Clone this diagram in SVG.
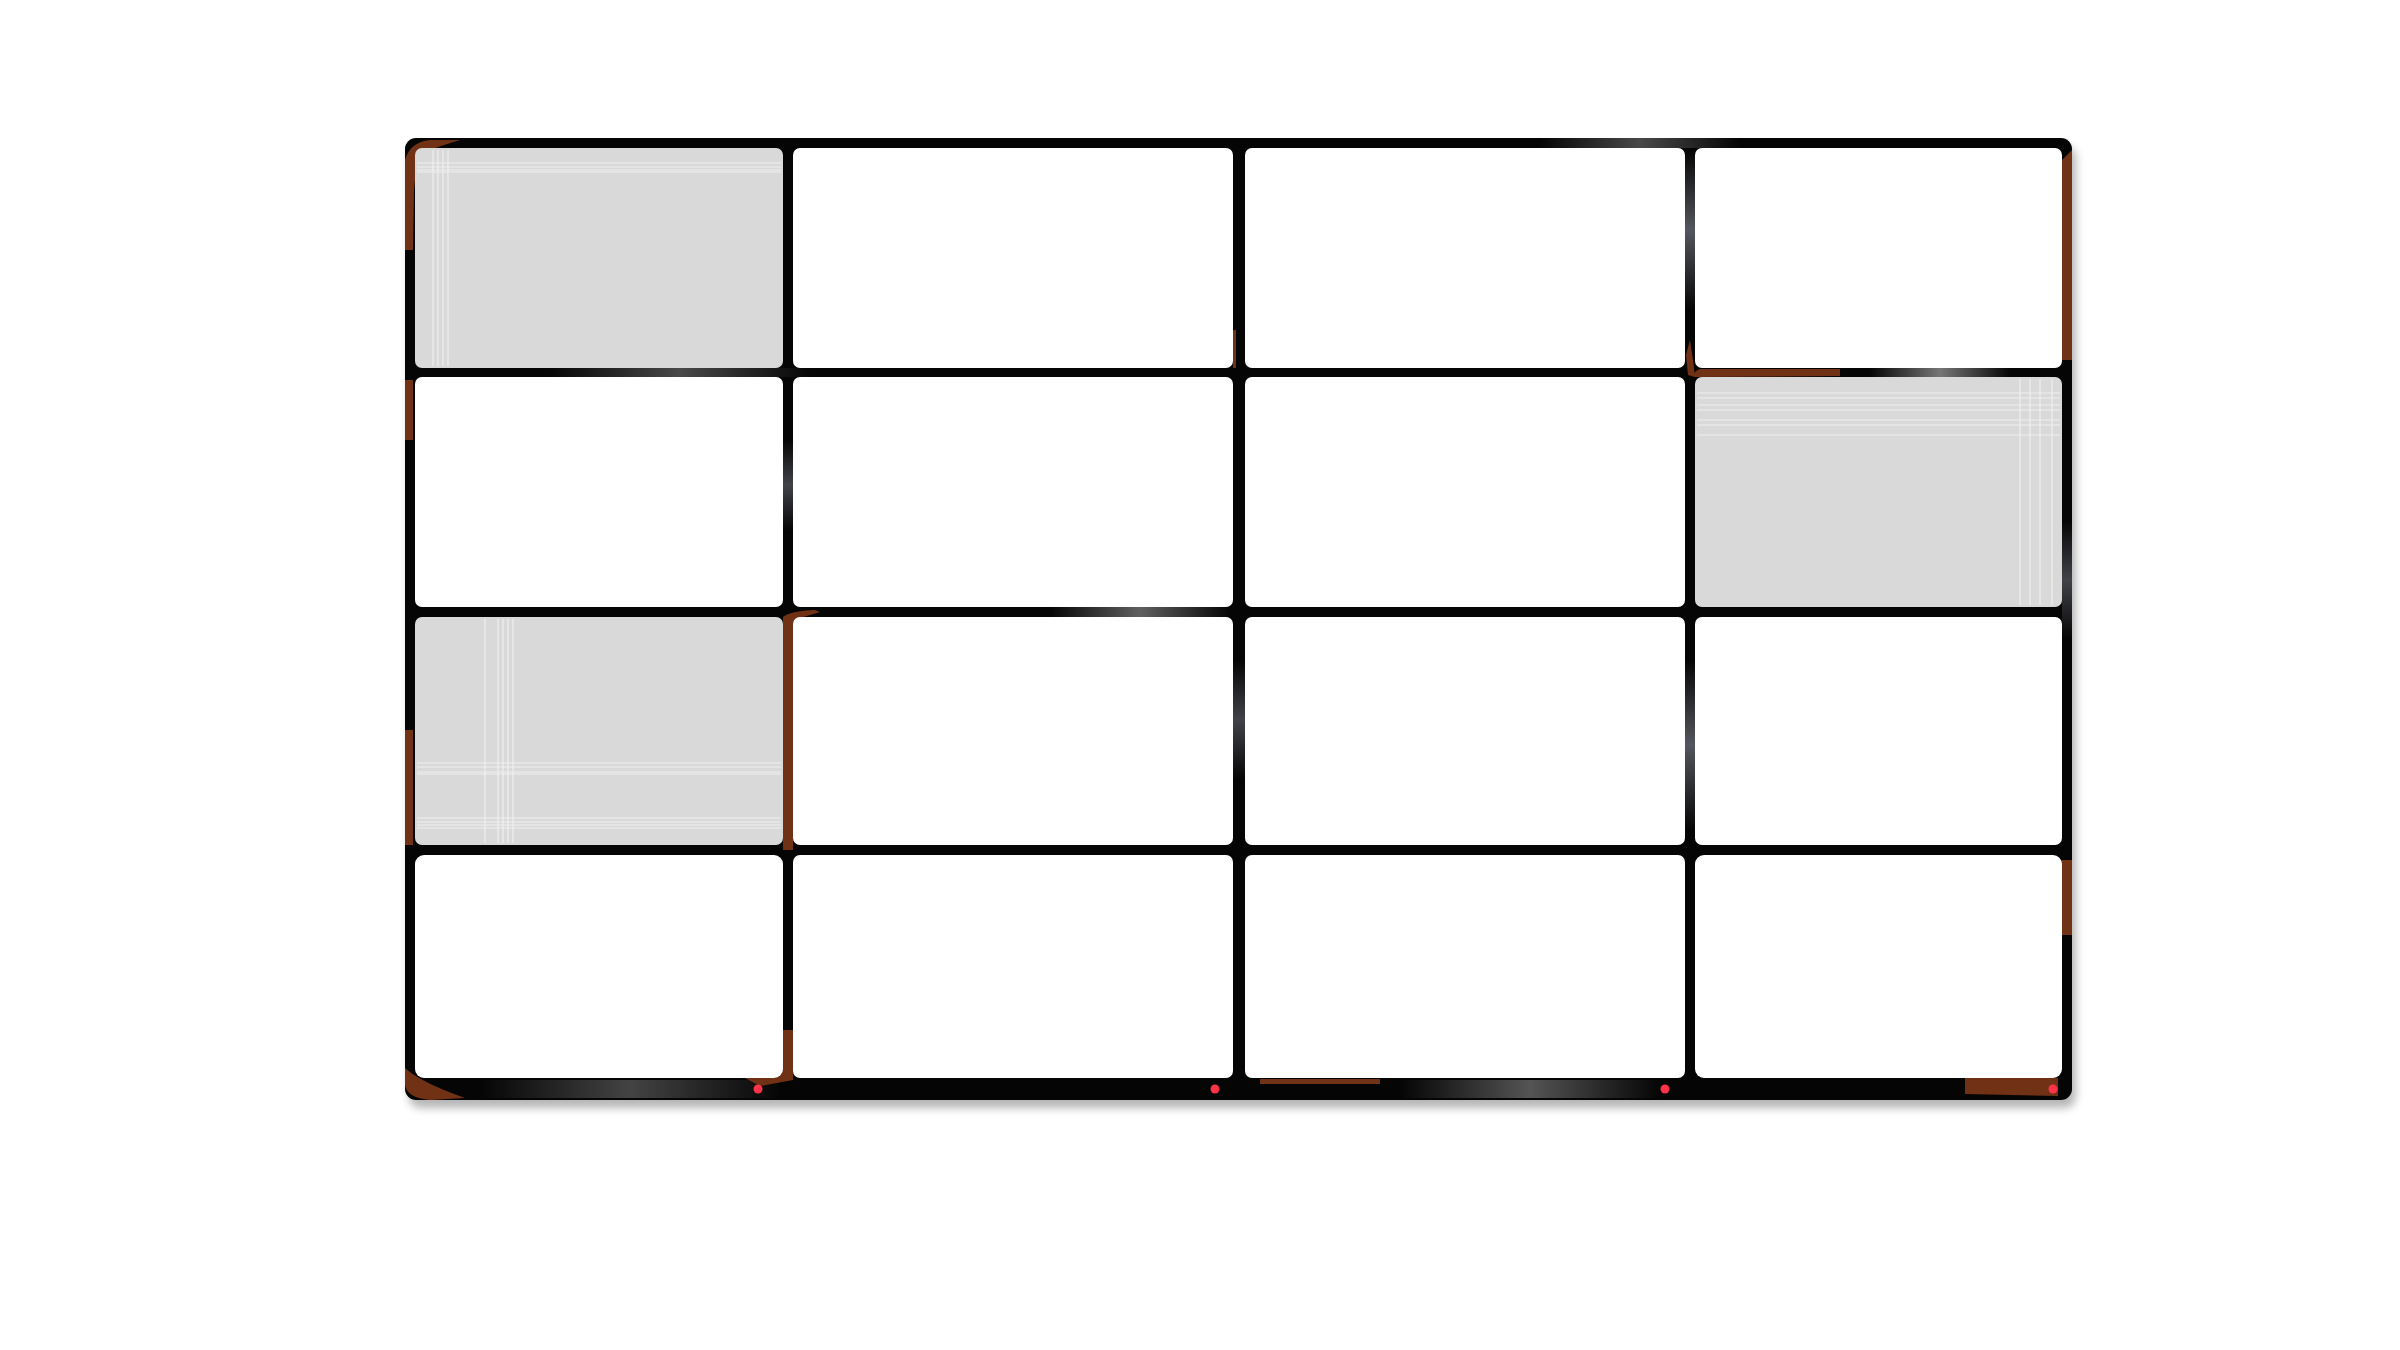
<svg xmlns="http://www.w3.org/2000/svg" width="2400" height="1350" viewBox="0 0 2400 1350">
  <defs>
    <filter id="shadow" x="-5%" y="-5%" width="110%" height="115%">
      <feGaussianBlur stdDeviation="4"/>
    </filter>
    <linearGradient id="hiH" x1="0" y1="0" x2="1" y2="0">
      <stop offset="0" stop-color="#8a8a8a" stop-opacity="0"/>
      <stop offset="0.5" stop-color="#8a8a8a" stop-opacity="0.85"/>
      <stop offset="1" stop-color="#8a8a8a" stop-opacity="0"/>
    </linearGradient>
    <linearGradient id="hiV" x1="0" y1="0" x2="0" y2="1">
      <stop offset="0" stop-color="#7a7d88" stop-opacity="0"/>
      <stop offset="0.5" stop-color="#7a7d88" stop-opacity="0.85"/>
      <stop offset="1" stop-color="#7a7d88" stop-opacity="0"/>
    </linearGradient>
    <style>
      .frame { fill: #050505; }
      .cell { fill: #ffffff; }
      .cell.shade { fill: #d9d9d9; }
      .stripe { stroke: #f2f2f2; stroke-width: 1.2; opacity: 0.9; }
      .rust { fill: #7a3516; opacity: 0.92; }
      .dot { fill: #ff3348; }
    </style>
  </defs>

  <g id="frame">
    <rect x="409" y="146" width="1667" height="962" rx="12" fill="#7a7a7a" opacity="0.55" filter="url(#shadow)"/>
    <rect class="frame" x="405" y="138" width="1667" height="962" rx="11"/>
    <!-- highlights on bars -->
    <rect x="1540" y="138" width="200" height="10" fill="url(#hiH)" opacity="0.6"/>
    <rect x="1870" y="368" width="140" height="9" fill="url(#hiH)"/>
    <rect x="1050" y="607" width="180" height="10" fill="url(#hiH)" opacity="0.8"/>
    <rect x="550" y="368" width="260" height="9" fill="url(#hiH)" opacity="0.6"/>
    <rect x="480" y="1080" width="300" height="18" fill="url(#hiH)" opacity="0.55"/>
    <rect x="1400" y="1080" width="260" height="18" fill="url(#hiH)" opacity="0.7"/>
    <rect x="1685" y="150" width="10" height="160" fill="url(#hiV)" opacity="0.8"/>
    <rect x="1685" y="660" width="10" height="170" fill="url(#hiV)" opacity="0.8"/>
    <rect x="1233" y="660" width="12" height="120" fill="url(#hiV)" opacity="0.6"/>
    <rect x="783" y="440" width="10" height="90" fill="url(#hiV)" opacity="0.6"/>
    <rect x="2062" y="520" width="10" height="120" fill="url(#hiV)" opacity="0.6"/>
    <!-- rust patches -->
    <path class="rust" d="M405 250 L405 160 Q410 142 430 140 L460 140 Q440 146 425 152 Q416 162 414 190 L413 250 Z"/>
    <path class="rust" d="M405 380 L413 380 L413 440 L405 440 Z" opacity="0.6"/>
    <path class="rust" d="M405 730 L413 730 L413 845 L405 845 Z"/>
    <path class="rust" d="M405 1068 Q420 1082 465 1098 L430 1100 Q407 1098 405 1085 Z"/>
    <path class="rust" d="M783 617 Q790 611 815 610 L820 612 L800 618 L793 625 L793 850 L783 850 Z"/>
    <path class="rust" d="M745 1078 L783 1060 L783 1030 L793 1030 L793 1080 L760 1086 Z"/>
    <path class="rust" d="M1695 377 Q1692 372 1700 369 L1840 369 L1840 376 Z"/>
    <path class="rust" d="M1686 355 L1690 340 L1693 360 L1695 377 L1688 375 Z"/>
    <path class="rust" d="M2062 160 L2072 150 L2072 360 L2062 360 Z"/>
    <path class="rust" d="M2062 860 L2072 860 L2072 935 L2062 935 Z" opacity="0.8"/>
    <path class="rust" d="M1260 1079 L1380 1079 L1380 1084 L1260 1084 Z"/>
    <path class="rust" d="M1965 1078 L2058 1078 L2058 1096 L1965 1094 Z"/>
    <path class="rust" d="M1233 330 L1236 330 L1236 368 L1233 368 Z" opacity="0.5"/>
  </g>

  <g id="cells">
    <g id="r1c1"><rect class="cell shade" x="415" y="148" width="368" height="220" rx="7"/>
      <g class="stripe"><line x1="433" y1="150" x2="433" y2="366"/><line x1="438" y1="150" x2="438" y2="366"/><line x1="443" y1="150" x2="443" y2="366"/><line x1="448" y1="150" x2="448" y2="366"/><line x1="417" y1="163" x2="781" y2="163"/><line x1="417" y1="167" x2="781" y2="167"/><line x1="417" y1="170" x2="781" y2="170"/><line x1="417" y1="172" x2="781" y2="172"/></g></g>
    <g id="r1c2"><rect class="cell" x="793" y="148" width="440" height="220" rx="7"/></g>
    <g id="r1c3"><rect class="cell" x="1245" y="148" width="440" height="220" rx="7"/></g>
    <g id="r1c4"><rect class="cell" x="1695" y="148" width="367" height="220" rx="7"/></g>

    <g id="r2c1"><rect class="cell" x="415" y="377" width="368" height="230" rx="7"/></g>
    <g id="r2c2"><rect class="cell" x="793" y="377" width="440" height="230" rx="7"/></g>
    <g id="r2c3"><rect class="cell" x="1245" y="377" width="440" height="230" rx="7"/></g>
    <g id="r2c4"><rect class="cell shade" x="1695" y="377" width="367" height="230" rx="7"/>
      <g class="stripe"><line x1="1697" y1="393" x2="2060" y2="393"/><line x1="1697" y1="398" x2="2060" y2="398"/><line x1="1697" y1="405" x2="2060" y2="405"/><line x1="1697" y1="410" x2="2060" y2="410"/><line x1="1697" y1="420" x2="2060" y2="420"/><line x1="1697" y1="425" x2="2060" y2="425"/><line x1="1697" y1="435" x2="2060" y2="435"/><line x1="2020" y1="379" x2="2020" y2="605"/><line x1="2030" y1="379" x2="2030" y2="605"/><line x1="2040" y1="379" x2="2040" y2="605"/><line x1="2052" y1="379" x2="2052" y2="605"/></g></g>

    <g id="r3c1"><rect class="cell shade" x="415" y="617" width="368" height="228" rx="7"/>
      <g class="stripe"><line x1="485" y1="619" x2="485" y2="843"/><line x1="498" y1="619" x2="498" y2="843"/><line x1="503" y1="619" x2="503" y2="843"/><line x1="508" y1="619" x2="508" y2="843"/><line x1="513" y1="619" x2="513" y2="843"/><line x1="417" y1="763" x2="781" y2="763"/><line x1="417" y1="767" x2="781" y2="767"/><line x1="417" y1="772" x2="781" y2="772"/><line x1="417" y1="774" x2="781" y2="774"/><line x1="417" y1="818" x2="781" y2="818"/><line x1="417" y1="822" x2="781" y2="822"/><line x1="417" y1="825" x2="781" y2="825"/><line x1="417" y1="828" x2="781" y2="828"/></g></g>
    <g id="r3c2"><rect class="cell" x="793" y="617" width="440" height="228" rx="7"/></g>
    <g id="r3c3"><rect class="cell" x="1245" y="617" width="440" height="228" rx="7"/></g>
    <g id="r3c4"><rect class="cell" x="1695" y="617" width="367" height="228" rx="7"/></g>

    <g id="r4c1"><rect class="cell" x="415" y="855" width="368" height="223" rx="9"/></g>
    <g id="r4c2"><rect class="cell" x="793" y="855" width="440" height="223" rx="7"/></g>
    <g id="r4c3"><rect class="cell" x="1245" y="855" width="440" height="223" rx="7"/></g>
    <g id="r4c4"><rect class="cell" x="1695" y="855" width="367" height="223" rx="9"/></g>
  </g>

  <g id="markers">
    <circle class="dot" cx="758" cy="1089" r="4.5"/>
    <circle class="dot" cx="1215" cy="1089" r="4.5"/>
    <circle class="dot" cx="1665" cy="1089" r="4.5"/>
    <circle class="dot" cx="2053" cy="1089" r="4.5"/>
  </g>
</svg>
